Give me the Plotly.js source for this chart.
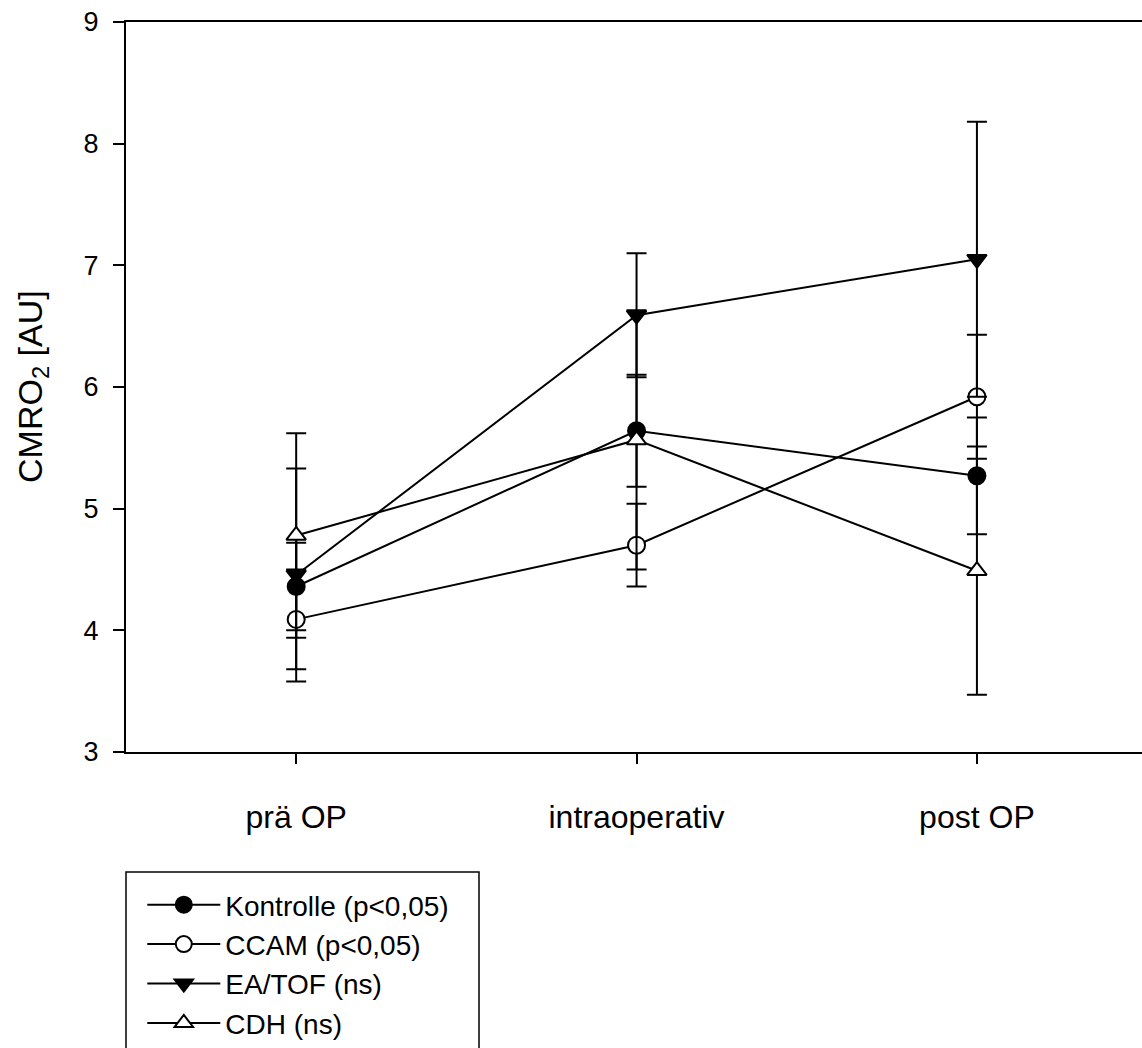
<!DOCTYPE html>
<html>
<head>
<meta charset="utf-8">
<script src="https://cdn.plot.ly/plotly-3.0.1.min.js"></script>
<style>html,body{margin:0;padding:0;background:#fff;}#chart{width:1142px;height:1048px;}</style>
</head>
<body>
<div id="chart"></div>
<script>
// Categories (x tick labels)
const categories = ["prä OP", "intraoperativ", "post OP"];

// Series names
const seriesNames = ["Kontrolle (p<0,05)", "CCAM (p<0,05)", "EA/TOF (ns)", "CDH (ns)"];

// Means
const kontrolle = [4.36, 5.64, 5.27];
const ccam      = [4.09, 4.70, 5.92];
const eatof     = [4.455, 6.59, 7.05];
const cdh       = [4.78, 5.565, 4.49];

// Error values (symmetric)
const kontrolleErr = [0.36, 0.46, 0.48];
const ccamErr      = [0.41, 0.34, 0.51];
const eatofErr     = [0.875, 0.51, 1.13];
const cdhErr       = [0.84, 1.065, 1.02];

// Y axis title
const yTitle = "CMRO<sub>2</sub> [AU]";

const FONT = "Liberation Sans, Arial, Helvetica, sans-serif";

function makeTrace(name, y, err, symbol, fill) {
  return {
    type: "scatter",
    mode: "lines+markers",
    name: name,
    x: categories,
    y: y,
    line: {color: "black", width: 2},
    marker: {symbol: symbol, size: 17, color: fill, line: {color: "black", width: 2}},
    error_y: {type: "data", array: err, visible: true, color: "black", thickness: 2, width: 10},
    cliponaxis: false
  };
}

const data = [
  makeTrace(seriesNames[0], kontrolle, kontrolleErr, "circle", "black"),
  makeTrace(seriesNames[1], ccam, ccamErr, "circle", "white"),
  makeTrace(seriesNames[2], eatof, eatofErr, "triangle-down", "black"),
  makeTrace(seriesNames[3], cdh, cdhErr, "triangle-up", "white")
];

const layout = {
  width: 1142,
  height: 1048,
  margin: {l: 126, r: 0, t: 22, b: 296, pad: 0, autoexpand: false},
  paper_bgcolor: "white",
  plot_bgcolor: "white",
  font: {family: FONT, color: "black"},
  showlegend: true,
  legend: {
    xref: "container", yref: "container",
    x: 0.1246, xanchor: "left",
    y: 1 - 880 / 1048, yanchor: "top",
    bgcolor: "rgba(0,0,0,0)",
    borderwidth: 0,
    font: {family: FONT, size: 28, color: "black"},
    itemwidth: 73,
    tracegroupgap: 0
  },
  xaxis: {
    type: "category",
    range: [-0.5, 2.485],
    showline: true, linecolor: "black", linewidth: 2, mirror: true,
    showgrid: false, zeroline: false,
    ticks: "outside", ticklen: 10, tickwidth: 2, tickcolor: "black",
    tickfont: {family: FONT, size: 32, color: "black"},
    ticklabelstandoff: 26,
    fixedrange: true
  },
  yaxis: {
    range: [3, 9],
    dtick: 1, tick0: 3,
    showline: true, linecolor: "black", linewidth: 2, mirror: false,
    showgrid: false, zeroline: false,
    ticks: "outside", ticklen: 11, tickwidth: 2, tickcolor: "black",
    tickfont: {family: FONT, size: 27, color: "black"},
    ticklabelstandoff: 9,
    fixedrange: true
  },
  shapes: [
    {type: "rect", xref: "paper", yref: "paper",
     x0: 0, x1: (479 - 126) / 1016, y0: -(872 - 752) / 730, y1: -(1070 - 752) / 730,
     line: {color: "black", width: 1.5}, fillcolor: "rgba(0,0,0,0)", layer: "above"}
  ],
  annotations: [
    {text: yTitle, xref: "paper", yref: "paper", x: (32 - 126) / 1016, y: 0.5,
     xanchor: "center", yanchor: "middle", textangle: -90, showarrow: false,
     font: {family: FONT, size: 34, color: "black"}}
  ]
};

Plotly.newPlot("chart", data, layout, {displayModeBar: false, staticPlot: true});
</script>
</body>
</html>
